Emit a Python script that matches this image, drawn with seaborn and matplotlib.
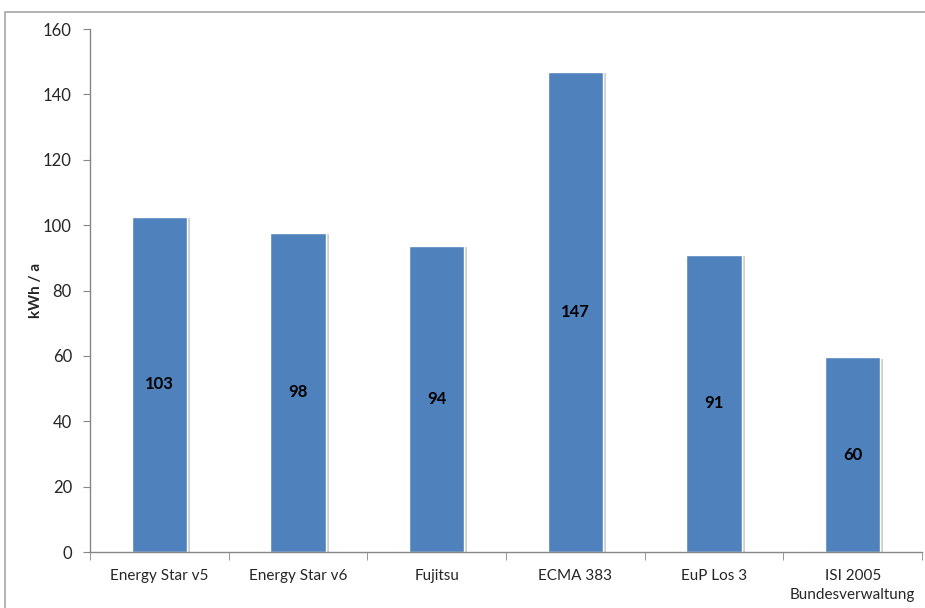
import matplotlib
matplotlib.use("Agg")
import matplotlib.pyplot as plt
import matplotlib.patheffects as pe
from matplotlib.patches import Rectangle
import seaborn as sns
import numpy as np
import pandas as pd

categories = ["Energy Star v5", "Energy Star v6", "Fujitsu", "ECMA 383",
              "EuP Los 3", "ISI 2005\nBundesverwaltung"]
values = [102.6, 97.7, 93.7, 146.9, 90.9, 59.6]
yticks = [0, 20, 40, 60, 80, 100, 120, 140, 160]

df = pd.DataFrame({"cat": categories, "kwh": values})

sns.set_style("white")
plt.rcParams["font.family"] = ["Lato", "DejaVu Sans"]

fig = plt.figure(figsize=(9.25, 6.08), dpi=100)
ax = fig.add_axes([0.0973, 0.0921, 0.8995, 0.8602])

sns.barplot(data=df, x="cat", y="kwh", color="#4F81BD", saturation=1,
            width=0.4, ax=ax)

for p in ax.patches:
    p.set_path_effects([pe.SimplePatchShadow(offset=(2, -1), shadow_rgbFace="#B0B0B0", alpha=0.6),
                        pe.Normal()])

for i, v in enumerate(values):
    ax.text(i, v / 2, f"{v:.0f}", ha="center", va="center",
            fontsize=12, fontweight="bold", color="black")

ax.set_xlim(-0.5, len(categories) - 0.5)
ax.set_ylim(0, 160)
ax.set_yticks(yticks)
ax.set_xlabel("")
ax.set_ylabel("kWh / a", fontsize=11, fontweight="bold")
ax.yaxis.set_label_coords(-0.057, 0.5)

for s in ["top", "right"]:
    ax.spines[s].set_visible(False)
for s in ["left", "bottom"]:
    ax.spines[s].set_color("#868686")
    ax.spines[s].set_linewidth(1)

ax.set_xticks(np.arange(-0.5, len(categories), 1), minor=True)
ax.tick_params(axis="x", which="major", length=0, labelsize=11, pad=12)
ax.tick_params(axis="x", which="minor", length=6, color="#868686", direction="out", bottom=True)
ax.tick_params(axis="y", length=5, color="#868686", direction="out", labelsize=12, left=True, pad=8)
for t in ax.get_xticklabels():
    t.set_linespacing(1.5)

fig.patches.append(Rectangle((5 / 925, -0.1), 1.2, 1 - 12 / 608 + 0.1,
                             transform=fig.transFigure, fill=False,
                             edgecolor="#A6A6A6", linewidth=1.2))

fig.savefig("out.png", dpi=100)
